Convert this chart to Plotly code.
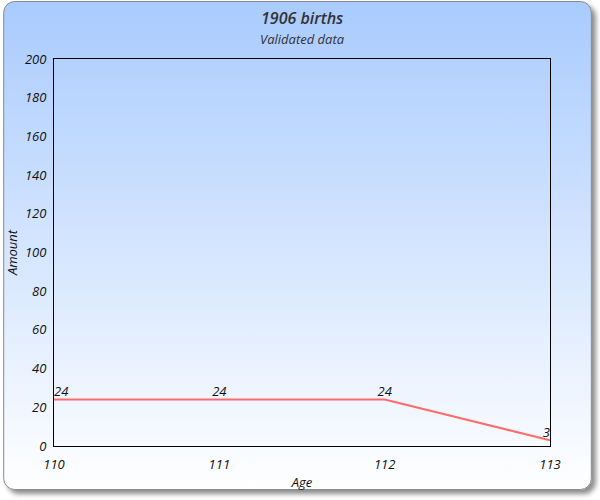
import base64

import plotly.graph_objects as go

AGES = [110, 111, 112, 113]
AMOUNTS = [24, 24, 24, 3]
Y_TICKS = list(range(0, 201, 20))

TITLE = "1906 births"
SUBTITLE = "Validated data"

W, H = 600, 500
M = dict(l=52, r=50, t=59, b=54)

# gradient card drawn as an svg behind the whole figure
BG_SVG = f"""<svg xmlns="http://www.w3.org/2000/svg" width="{W}" height="{H}" viewBox="0 0 {W} {H}" preserveAspectRatio="none">
<defs>
<linearGradient id="g" x1="0" y1="0" x2="0" y2="1">
<stop offset="0" stop-color="#a9cbfe"/>
<stop offset="1" stop-color="#ffffff"/>
</linearGradient>
<filter id="s" x="-5%" y="-5%" width="110%" height="110%">
<feDropShadow dx="4" dy="4" stdDeviation="2.5" flood-color="#000" flood-opacity="0.45"/>
</filter>
</defs>
<rect x="1.5" y="1.5" width="590" height="488" rx="11" ry="11" fill="url(#g)" stroke="#8a8a8a" stroke-width="1" filter="url(#s)"/>
</svg>"""
BG_URI = "data:image/svg+xml;base64," + base64.b64encode(BG_SVG.encode()).decode()

pw = W - M["l"] - M["r"]
ph = H - M["t"] - M["b"]

FONT = "Open Sans, Noto Sans, sans-serif"
TICK_FONT = dict(family=FONT, size=13, style="italic", weight=500, color="#111")

fig = go.Figure(
    go.Scatter(
        x=AGES,
        y=AMOUNTS,
        mode="lines+text",
        text=[str(v) for v in AMOUNTS],
        textposition=["top right", "top center", "top center", "top left"],
        textfont=dict(family=FONT, size=13, color="#111", style="italic"),
        line=dict(color="#ff6b6b", width=2),
        cliponaxis=False,
        hoverinfo="x+y",
    )
)

fig.update_layout(
    width=W,
    height=H,
    margin=M,
    paper_bgcolor="white",
    plot_bgcolor="rgba(0,0,0,0)",
    showlegend=False,
    font=dict(family=FONT, color="#111"),
    annotations=[
        dict(
            text=TITLE, xref="paper", yref="paper", x=0.5, y=1 + (M["t"] - 18) / ph,
            xanchor="center", yanchor="middle", showarrow=False,
            font=dict(size=16, color="#333", style="italic", weight=600),
        ),
        dict(
            text=SUBTITLE, xref="paper", yref="paper", x=0.5, y=1 + (M["t"] - 39) / ph,
            xanchor="center", yanchor="middle", showarrow=False,
            font=dict(size=13, color="#333", style="italic", weight=500),
        ),
    ],
    images=[
        dict(
            source=BG_URI,
            xref="paper",
            yref="paper",
            x=-M["l"] / pw,
            y=1 + M["t"] / ph,
            sizex=W / pw,
            sizey=H / ph,
            xanchor="left",
            yanchor="top",
            sizing="stretch",
            layer="below",
        )
    ],
)

fig.update_xaxes(
    range=[AGES[0], AGES[-1]],
    tickvals=AGES,
    ticktext=[str(a) for a in AGES],
    showgrid=False,
    zeroline=False,
    showline=True,
    linecolor="black",
    linewidth=1,
    mirror=True,
    ticks="",
    ticklabelstandoff=6,
    tickfont=TICK_FONT,
    title=dict(text="Age", standoff=6, font=TICK_FONT),
)
fig.update_yaxes(
    range=[0, 200],
    tickvals=Y_TICKS,
    showgrid=False,
    zeroline=False,
    showline=True,
    linecolor="black",
    linewidth=1,
    mirror=True,
    ticks="",
    ticklabelstandoff=4,
    tickfont=TICK_FONT,
    title=dict(text="Amount", standoff=4, font=TICK_FONT),
)

fig.write_html(
    "out.html",
    config={"displayModeBar": False},
    post_script="document.body.style.margin='0';document.body.style.overflow='hidden';",
)
